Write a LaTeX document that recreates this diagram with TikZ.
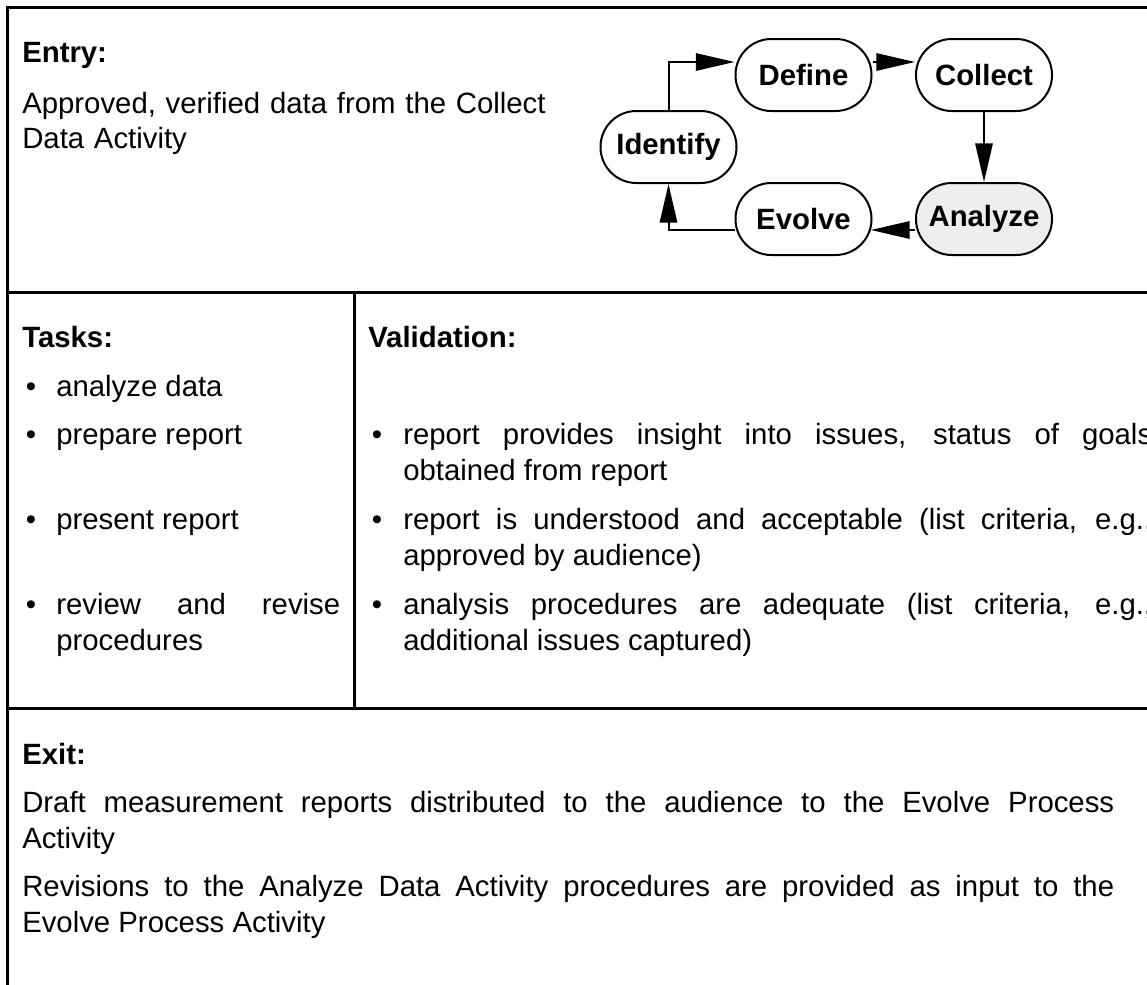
\documentclass[tikz,border=0pt]{standalone}
\usepackage{fontspec}
\setmainfont{Liberation Sans}
\usetikzlibrary{arrows.meta}
\definecolor{shade}{RGB}{238,238,238}
\begin{document}
\fontsize{22pt}{27pt}\selectfont
\begin{tikzpicture}[x=0.75pt,y=-0.75pt,
  frame/.style={line width=2.25pt},
  phase/.style={draw, line width=1.5pt, rounded corners=26.9pt,
    minimum width=102pt, minimum height=54pt, inner sep=0pt, font=\bfseries},
  flow/.style={line width=1.5pt, -{Triangle[length=29pt,width=13pt]}},
  head/.style={anchor=base west, inner sep=0pt, font=\bfseries},
  body/.style={anchor=base west, inner sep=0pt, align=justify},
  dot/.style={anchor=base, inner sep=0pt}]
\clip (0,0) rectangle (1147,985);

% table rules
\draw[frame] (6,7.5) -- (1150,7.5);
\draw[frame] (7.5,6) -- (7.5,990);
\draw[frame] (7.5,292.5) -- (1150,292.5);
\draw[frame] (7.5,708.5) -- (1150,708.5);
\draw[frame] (354.5,292.5) -- (354.5,708.5);

% entry criteria
\node[head] (entryhead) at (22,62) {Entry:};
\node[body, text width=400pt, align=left] (entrytext) at (22,113)
  {Approved, verified data from the Collect\\Data Activity};

% measurement cycle
\node[phase] (define)   at (803.5,75)  {Define};
\node[phase] (collect)  at (984,75)    {Collect};
\node[phase] (identify) at (668.5,147) {Identify};
\node[phase] (evolve)   at (803.5,219) {Evolve};
\node[phase, fill=shade] (analyze) at (984,219) {Analyze};

\draw[flow] (identify.north) |- ([yshift=9.75pt]define.west);
\draw[flow] ([yshift=9.75pt]define.east) -- ([yshift=9.75pt]collect.west);
\draw[flow] (collect.south) -- (analyze.north);
\draw[flow] ([yshift=-8.25pt]analyze.west) -- ([yshift=-8.25pt,xshift=-1.2pt]evolve.east);
\draw[flow] ([yshift=-8.25pt]evolve.west) -| (identify.south);

% tasks
\node[head] (taskshead) at (22,347) {Tasks:};
\node[dot] (tb1) at (31,396) {\textbullet};
\node[body] (t1) at (56,396) {analyze data};
\node[dot] (tb2) at (31,444) {\textbullet};
\node[body] (t2) at (56,444) {prepare report};
\node[dot] (tb3) at (31,529) {\textbullet};
\node[body] (t3) at (56,529) {present report};
\node[dot] (tb4) at (31,614) {\textbullet};
\node[body, text width=213pt] (t4) at (56,614)
  {review and revise\linebreak procedures};

% validation
\node[head] (validhead) at (368,347) {Validation:};
\node[dot] (vb1) at (377,444) {\textbullet};
\node[body, text width=561.75pt] (v1) at (403,444)
  {report provides insight into issues, status of goals\linebreak obtained from report};
\node[dot] (vb2) at (377,529) {\textbullet};
\node[body, text width=561.75pt] (v2) at (403,529)
  {report is understood and acceptable (list criteria, e.g.,\linebreak approved by audience)};
\node[dot] (vb3) at (377,614) {\textbullet};
\node[body, text width=561.75pt] (v3) at (403,614)
  {analysis procedures are adequate (list criteria, e.g.,\linebreak additional issues captured)};

% exit criteria
\node[head] (exithead) at (22,764) {Exit:};
\node[body, text width=819pt] (x1) at (22,812.5)
  {Draft measurement reports distributed to the audience to the Evolve Process\linebreak Activity};
\node[body, text width=819pt] (x2) at (22,896.5)
  {Revisions to the Analyze Data Activity procedures are provided as input to the\linebreak Evolve Process Activity};
\end{tikzpicture}
\end{document}
